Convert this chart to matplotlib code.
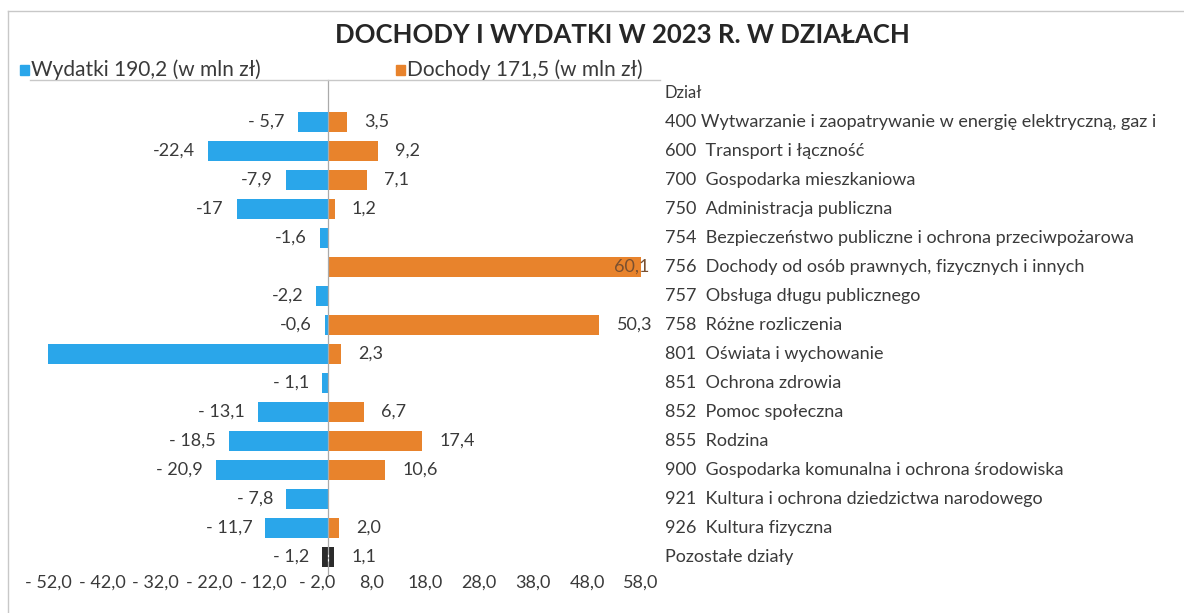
import matplotlib
matplotlib.use('Agg')
import matplotlib.pyplot as plt
from matplotlib.patches import Rectangle
from matplotlib.lines import Line2D
from matplotlib.transforms import blended_transform_factory, offset_copy

plt.rcParams['font.family'] = ['Lato', 'DejaVu Sans']

dzialy = [
    '400 Wytwarzanie i zaopatrywanie w energię elektryczną, gaz i',
    '600  Transport i łączność',
    '700  Gospodarka mieszkaniowa',
    '750  Administracja publiczna',
    '754  Bezpieczeństwo publiczne i ochrona przeciwpożarowa',
    '756  Dochody od osób prawnych, fizycznych i innych',
    '757  Obsługa długu publicznego',
    '758  Różne rozliczenia',
    '801  Oświata i wychowanie',
    '851  Ochrona zdrowia',
    '852  Pomoc społeczna',
    '855  Rodzina',
    '900  Gospodarka komunalna i ochrona środowiska',
    '921  Kultura i ochrona dziedzictwa narodowego',
    '926  Kultura fizyczna',
    'Pozostałe działy',
]
wydatki = [-5.7, -22.4, -7.9, -17.0, -1.6, 0.0, -2.2, -0.6, -58.5,
           -1.1, -13.1, -18.5, -20.9, -7.8, -11.7, -1.2]
dochody = [3.5, 9.2, 7.1, 1.2, 0.0, 60.1, 0.0, 50.3, 2.3,
           0.0, 6.7, 17.4, 10.6, 0.0, 2.0, 1.1]
wyd_labels = ['- 5,7', '-22,4', '-7,9', '-17', '-1,6', '', '-2,2', '-0,6', '',
              '- 1,1', '- 13,1', '- 18,5', '- 20,9', '- 7,8', '- 11,7', '- 1,2']
doch_labels = ['3,5', '9,2', '7,1', '1,2', '', '60,1', '', '50,3', '2,3',
               '', '6,7', '17,4', '10,6', '', '2,0', '1,1']
ticks = [-52, -42, -32, -22, -12, -2, 8, 18, 28, 38, 48, 58]

BLUE = '#2aa6ea'
ORANGE = '#e8832c'
DARK = '#2b2b2b'
TXT = '#3a3a3a'

W, H = 1184, 613
fig = plt.figure(figsize=(W / 100, H / 100), dpi=100)


def fx(px):
    return px / W


def fy(py):
    return 1 - py / H


ax = fig.add_axes([fx(48), fy(571.5), fx(593), (571.5 - 107.5) / H])
n = len(dzialy)
y = list(range(n))
wcol = [BLUE] * (n - 1) + [DARK]
dcol = [ORANGE] * (n - 1) + [DARK]
ax.barh(y, wydatki, height=0.68, color=wcol)
ax.barh(y, dochody, height=0.68, color=dcol)
ax.set_xlim(-52, 58)
ax.set_ylim(n - 0.5, -0.5)
for s in ax.spines.values():
    s.set_visible(False)
ax.set_yticks([])
ax.set_xticks(ticks)
ax.set_xticklabels([f'- {abs(t)},0' if t < 0 else f'{t},0' for t in ticks],
                   fontsize=13, color=TXT)
ax.tick_params(axis='x', length=0, pad=2)

# linia zera
ax.plot([0, 0], [n - 0.4, -1.45], color='#aaaaaa', lw=0.9, clip_on=False, zorder=3)
ax.plot([0, 0], [n - 0.85, n - 1.15], color='white', lw=0.8, ls=(0, (2, 2)), zorder=4)

# etykiety danych
for i in range(n):
    if wyd_labels[i]:
        tr = offset_copy(ax.transData, fig=fig, x=-13, y=0, units='dots')
        ax.text(wydatki[i], i, wyd_labels[i], transform=tr, ha='right', va='center',
                fontsize=13, color=TXT)
    if doch_labels[i]:
        if dochody[i] > 55:
            tr = offset_copy(ax.transData, fig=fig, x=-3, y=0, units='dots')
            ax.text(dochody[i], i, doch_labels[i], transform=tr, ha='right', va='center',
                    fontsize=13, color='#7a5030')
        else:
            tr = offset_copy(ax.transData, fig=fig, x=17, y=0, units='dots')
            ax.text(dochody[i], i, doch_labels[i], transform=tr, ha='left', va='center',
                    fontsize=13, color=TXT)

# nazwy działów po prawej
bt = blended_transform_factory(fig.transFigure, ax.transData)
ax.text(fx(665), -1, 'Dział', transform=bt, ha='left', va='center',
        fontsize=12, color=TXT, clip_on=False)
for i, name in enumerate(dzialy):
    ax.text(fx(665), i, name, transform=bt, ha='left', va='center',
            fontsize=13, color=TXT, clip_on=False)

# tytuł i legenda
fig.text(fx(622), fy(35), 'DOCHODY I WYDATKI W 2023 R. W DZIAŁACH', ha='center',
         va='center', fontsize=18.5, fontweight='bold', color='#262626')
fig.patches.append(Rectangle((fx(20), fy(75)), fx(9), 10 / H, color=BLUE,
                             transform=fig.transFigure))
fig.text(fx(31), fy(70), 'Wydatki 190,2 (w mln zł)', ha='left', va='center',
         fontsize=15, color=TXT)
fig.patches.append(Rectangle((fx(396), fy(75)), fx(9), 10 / H, color=ORANGE,
                             transform=fig.transFigure))
fig.text(fx(407), fy(70), 'Dochody 171,5 (w mln zł)', ha='left', va='center',
         fontsize=15, color=TXT)

# ramka
for xs, ys in [((8, W), (11, 11)), ((8, 8), (11, H)), ((30, 660), (80, 80))]:
    fig.add_artist(Line2D([fx(xs[0]), fx(xs[1])], [fy(ys[0]), fy(ys[1])],
                          color='#c8c8c8', lw=1.0, transform=fig.transFigure))

fig.savefig('out.png', dpi=100)
